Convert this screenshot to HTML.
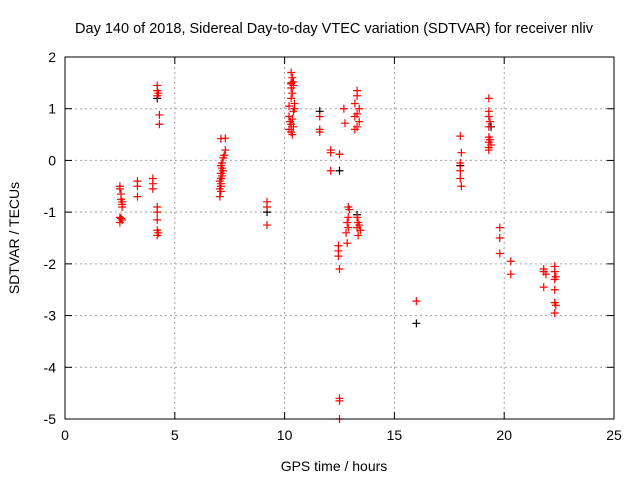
<!DOCTYPE html>
<html><head><meta charset="utf-8"><style>
body{margin:0;background:#fff}
svg{display:block;font-family:"Liberation Sans",sans-serif}
</style></head><body>
<svg id="c" width="640" height="480">
<text x="334" y="33" text-anchor="middle" font-size="14.5">Day 140 of 2018, Sidereal Day-to-day VTEC variation (SDTVAR) for receiver nliv</text>
<text x="334" y="471" text-anchor="middle" font-size="14">GPS time / hours</text>
<text transform="translate(19,238) rotate(-90)" text-anchor="middle" font-size="14">SDTVAR / TECUs</text>
<g id="grid"></g><g id="ticks"></g><g id="pts"></g>
<rect x="65" y="57" width="549" height="362" fill="none" stroke="#000" stroke-width="1"/>
</svg>
<script>
const xTicks=[0,5,10,15,20,25];
const yTicks=[2,1,0,-1,-2,-3,-4,-5];
const redHours=[2.5,2.5,2.55,2.55,2.6,2.6,2.6,2.5,2.55,2.6,2.5,3.3,3.3,3.3,4.0,4.0,4.0,4.2,4.2,4.25,4.2,4.3,4.3,4.2,4.2,4.2,4.2,4.25,4.2,
7.1,7.3,7.3,7.25,7.2,7.15,7.1,7.15,7.2,7.1,7.15,7.1,7.05,7.1,7.1,7.05,7.1,7.05,
9.2,9.2,9.2,
10.3,10.35,10.3,10.4,10.3,10.35,10.3,10.45,10.2,10.4,10.2,10.35,10.25,10.3,10.4,10.2,10.3,10.35,10.4,10.3,10.45,
11.6,11.6,11.6,12.1,12.1,12.1,12.5,12.5,12.45,12.45,12.45,12.5,12.5,12.5,12.5,12.7,12.75,
12.9,12.95,12.9,12.85,12.9,12.8,12.85,
13.3,13.3,13.2,13.4,13.3,13.2,13.4,13.3,13.2,13.3,13.35,13.4,13.3,13.45,13.35,
16.0,18.0,18.05,18.0,18.0,18.0,18.05,
19.3,19.3,19.3,19.35,19.3,19.3,19.35,19.3,19.4,19.3,19.3,
19.8,19.8,19.8,20.3,20.3,21.8,21.8,21.9,21.8,22.3,22.3,22.35,22.3,22.3,22.3,22.35,22.3];
const redValues=[-0.5,-0.55,-0.65,-0.75,-0.8,-0.85,-0.9,-1.1,-1.12,-1.15,-1.2,-0.4,-0.5,-0.7,-0.35,-0.45,-0.55,1.45,1.35,1.3,1.25,0.88,0.7,-0.9,-1.0,-1.15,-1.35,-1.4,-1.45,
0.42,0.43,0.2,0.1,0.05,-0.05,-0.1,-0.15,-0.2,-0.25,-0.3,-0.35,-0.4,-0.45,-0.5,-0.55,-0.6,-0.7,
-0.8,-0.9,-1.25,
1.7,1.6,1.5,1.45,1.4,1.3,1.2,1.1,1.05,0.95,0.85,0.8,0.75,0.7,0.65,0.6,0.55,0.5,1.52,1.48,1.0,
0.85,0.6,0.55,0.2,0.15,-0.2,0.12,0.12,-1.65,-1.75,-1.85,-2.1,-4.6,-4.65,-5.0,1.0,0.72,
-0.9,-0.95,-1.1,-1.2,-1.3,-1.4,-1.6,
1.35,1.25,1.1,1.0,0.9,0.85,0.75,0.65,0.6,-1.1,-1.2,-1.25,-1.3,-1.35,-1.45,
-2.72,0.47,0.15,-0.05,-0.2,-0.35,-0.5,
1.2,0.95,0.85,0.75,0.65,0.45,0.4,0.35,0.3,0.25,0.2,
-1.3,-1.5,-1.8,-1.95,-2.2,-2.1,-2.15,-2.2,-2.45,-2.05,-2.15,-2.25,-2.3,-2.5,-2.75,-2.8,-2.95];
const blackHours=[4.2,9.2,11.6,12.5,13.3,16.0,18.0,19.4];
const blackValues=[1.2,-1.0,0.95,-0.2,-1.05,-3.15,-0.1,0.65];
const NS='http://www.w3.org/2000/svg';
const X0=65,X1=614,Y0=57,Y1=419;
function sx(h){return X0+(h-0)/(25-0)*(X1-X0);}
function sy(v){return Y0+(2-v)/(2-(-5))*(Y1-Y0);}
function mk(t,a,p){const e=document.createElementNS(NS,t);for(const k in a)e.setAttribute(k,a[k]);p.appendChild(e);return e;}
const grid=document.getElementById('grid'),ticks=document.getElementById('ticks'),pts=document.getElementById('pts');
xTicks.forEach(t=>{const x=sx(t);
 if(t>0&&t<25){const g=mk('line',{x1:x,x2:x,y1:Y0,y2:Y1,stroke:'#a0a0a0','stroke-dasharray':'2,3'},grid);
 
 }
 mk('line',{x1:x,x2:x,y1:Y1,y2:Y1-7,stroke:'#000'},ticks);
 mk('line',{x1:x,x2:x,y1:Y0,y2:Y0+7,stroke:'#000'},ticks);
 const l=mk('text',{x:x,y:Y1+21,'text-anchor':'middle','font-size':14},ticks);l.textContent=t;
 
 });
yTicks.forEach(t=>{const y=sy(t);
 if(t<2&&t>-5){const g=mk('line',{x1:X0,x2:X1,y1:y,y2:y,stroke:'#a0a0a0','stroke-dasharray':'2,3'},grid);
 
 }
 mk('line',{x1:X0,x2:X0+7,y1:y,y2:y,stroke:'#000'},ticks);
 mk('line',{x1:X1,x2:X1-7,y1:y,y2:y,stroke:'#000'},ticks);
 const l=mk('text',{x:X0-9,y:y+5,'text-anchor':'end','font-size':14},ticks);l.textContent=t;
 
 });
function plus(h,v,c,n){const x=sx(h),y=sy(v);
 const p=mk('path',{d:`M${x-4} ${y}H${x+4}M${x} ${y-4}V${y+4}`,stroke:c,'stroke-width':1.2,fill:'none'},pts);
 
 }
blackHours.forEach((h,i)=>plus(h,blackValues[i],'#000','black-point'));
redHours.forEach((h,i)=>plus(h,redValues[i],'#f00','red-point'));
</script>
</body></html>
